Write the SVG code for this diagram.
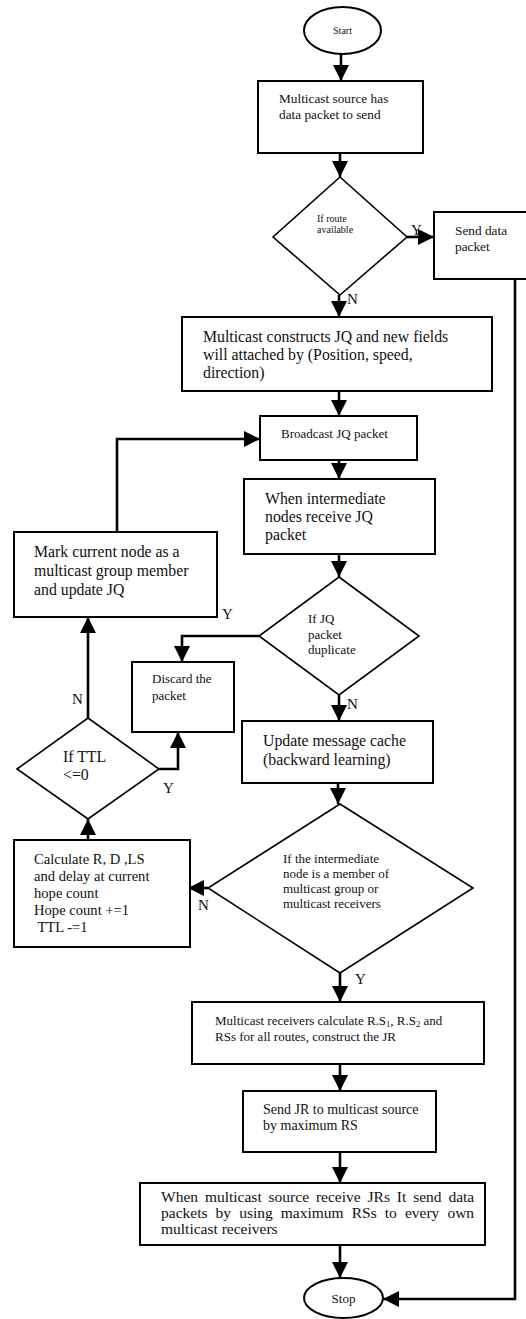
<svg xmlns="http://www.w3.org/2000/svg" width="526" height="1319" viewBox="0 0 526 1319">
<style>
text{font-family:"Liberation Serif","Times New Roman",serif;fill:#111}
.box{fill:#fff;stroke:#000;stroke-width:2}
.dia{fill:#fff;stroke:#000;stroke-width:1.6}
.ell{fill:#fff;stroke:#000;stroke-width:2}
.con{fill:none;stroke:#000;stroke-width:2.6}
.lbl{font-size:15px}
</style>
<defs>
<marker id="ah" markerUnits="userSpaceOnUse" markerWidth="16" markerHeight="16" refX="16" refY="8" orient="auto">
<path d="M0,0 L16,8 L0,16 Z" fill="#000"/>
</marker>
</defs>
<rect width="526" height="1319" fill="#fff"/>
<g id="connectors">
<path class="con" d="M341,54 V81" marker-end="url(#ah)"/>
<path class="con" d="M340,153 V177" marker-end="url(#ah)"/>
<path class="con" d="M407,237 H434" marker-end="url(#ah)"/>
<path class="con" d="M339,295 V317" marker-end="url(#ah)"/>
<path class="con" d="M339,391 V416" marker-end="url(#ah)"/>
<path class="con" d="M117,532 V439 H260" marker-end="url(#ah)"/>
<path class="con" d="M339,460 V479" marker-end="url(#ah)"/>
<path class="con" d="M339,554 V577" marker-end="url(#ah)"/>
<path class="con" d="M259,636 H182 V662" marker-end="url(#ah)"/>
<path class="con" d="M339,695 V721" marker-end="url(#ah)"/>
<path class="con" d="M338,783 V804" marker-end="url(#ah)"/>
<path class="con" d="M208,888 H188" marker-end="url(#ah)"/>
<path class="con" d="M88,840 V819" marker-end="url(#ah)"/>
<path class="con" d="M159,769 H178 V732" marker-end="url(#ah)"/>
<path class="con" d="M88,718 V617" marker-end="url(#ah)"/>
<path class="con" d="M340,973 V1002" marker-end="url(#ah)"/>
<path class="con" d="M340,1064 V1091" marker-end="url(#ah)"/>
<path class="con" d="M340,1152 V1183" marker-end="url(#ah)"/>
<path class="con" d="M340,1245 V1278" marker-end="url(#ah)"/>
<path class="con" d="M515,279 V1299 H383" marker-end="url(#ah)"/>
<text class="lbl" x="411" y="235">Y</text>
<text class="lbl" x="347" y="304">N</text>
<text class="lbl" x="222" y="619">Y</text>
<text class="lbl" x="347" y="709">N</text>
<text class="lbl" x="72" y="704">N</text>
<text class="lbl" x="163" y="793">Y</text>
<text class="lbl" x="198" y="910">N</text>
<text class="lbl" x="355" y="984">Y</text>
</g>
<g id="start">
<ellipse class="ell" cx="342.5" cy="30.5" rx="38.5" ry="23.5"/>
<text x="342.5" y="34" font-size="10" text-anchor="middle">Start</text>
</g>
<g id="source-has-data">
<rect class="box" x="258" y="81" width="165" height="72"/>
<text font-size="13.3"><tspan x="279" y="103">Multicast source has</tspan><tspan x="279" y="119">data packet to send</tspan></text>
</g>
<g id="route-available">
<polygon class="dia" points="340,177 407,237 340,295 273,237"/>
<text font-size="10"><tspan x="317" y="222">If route</tspan><tspan x="317" y="233">available</tspan></text>
</g>
<g id="send-data">
<rect class="box" x="434" y="212" width="100" height="67" stroke-width="1.6"/>
<text font-size="13.3"><tspan x="455" y="235">Send data</tspan><tspan x="455" y="251">packet</tspan></text>
</g>
<g id="construct-jq">
<rect class="box" x="182" y="317" width="310" height="74"/>
<text font-size="15.8"><tspan x="203" y="342">Multicast constructs JQ and new fields</tspan><tspan x="203" y="360">will attached by (Position, speed,</tspan><tspan x="203" y="378">direction)</tspan></text>
</g>
<g id="broadcast-jq">
<rect class="box" x="260" y="416" width="157" height="44"/>
<text font-size="13" x="281" y="438">Broadcast JQ packet</text>
</g>
<g id="intermediate-receive">
<rect class="box" x="244" y="479" width="191" height="75"/>
<text font-size="15.8"><tspan x="265" y="504">When intermediate</tspan><tspan x="265" y="522">nodes receive JQ</tspan><tspan x="265" y="540">packet</tspan></text>
</g>
<g id="mark-member">
<rect class="box" x="14" y="532" width="203" height="85"/>
<text font-size="15.8"><tspan x="34" y="557">Mark current node as a</tspan><tspan x="34" y="576">multicast group member</tspan><tspan x="34" y="595">and update JQ</tspan></text>
</g>
<g id="jq-duplicate">
<polygon class="dia" points="339,577 419,636 339,695 259,636"/>
<text font-size="13"><tspan x="308" y="623">If JQ</tspan><tspan x="308" y="639">packet</tspan><tspan x="308" y="654">duplicate</tspan></text>
</g>
<g id="discard">
<rect class="box" x="132" y="662" width="102" height="70"/>
<text font-size="13"><tspan x="152" y="683">Discard the</tspan><tspan x="152" y="700">packet</tspan></text>
</g>
<g id="update-cache">
<rect class="box" x="242" y="721" width="191" height="62"/>
<text font-size="15.8"><tspan x="263" y="746">Update message cache</tspan><tspan x="263" y="765">(backward learning)</tspan></text>
</g>
<g id="ttl-check">
<polygon class="dia" points="88,718 159,769 88,819 17,769"/>
<text font-size="15.8"><tspan x="63" y="762">If TTL</tspan><tspan x="63" y="780">&lt;=0</tspan></text>
</g>
<g id="member-check">
<polygon class="dia" points="340,804 473,888 340,973 208,888"/>
<text font-size="13"><tspan x="283" y="863">If the intermediate</tspan><tspan x="283" y="878">node is a member of</tspan><tspan x="283" y="893">multicast group or</tspan><tspan x="283" y="908">multicast receivers</tspan></text>
</g>
<g id="calculate">
<rect class="box" x="14" y="840" width="176" height="107"/>
<text font-size="14.6"><tspan x="34" y="864">Calculate R, D ,LS</tspan><tspan x="34" y="881">and delay at current</tspan><tspan x="34" y="898">hope count</tspan><tspan x="34" y="915">Hope count +=1</tspan><tspan x="34" y="932"> TTL -=1</tspan></text>
</g>
<g id="receivers-calc">
<rect class="box" x="192" y="1002" width="292" height="62"/>
<text font-size="13"><tspan x="215" y="1025">Multicast receivers calculate R.S<tspan baseline-shift="-2" font-size="8.5">1</tspan>, R.S<tspan baseline-shift="-2" font-size="8.5">2</tspan> and</tspan><tspan x="215" y="1041">RSs for all routes, construct the JR</tspan></text>
</g>
<g id="send-jr">
<rect class="box" x="243" y="1091" width="193" height="61"/>
<text font-size="14"><tspan x="263" y="1114">Send JR to multicast source</tspan><tspan x="263" y="1130">by maximum RS</tspan></text>
</g>
<g id="source-receive">
<rect class="box" x="140" y="1183" width="345" height="62"/>
<text font-size="15.5"><tspan x="161" y="1202" word-spacing="3">When multicast source receive JRs It send data</tspan><tspan x="161" y="1218" word-spacing="4.2">packets by using maximum RSs to every own</tspan><tspan x="161" y="1234">multicast receivers</tspan></text>
</g>
<g id="stop">
<ellipse class="ell" cx="343.5" cy="1298" rx="39.5" ry="20"/>
<text x="343.5" y="1302.5" font-size="13" text-anchor="middle">Stop</text>
</g>
</svg>
